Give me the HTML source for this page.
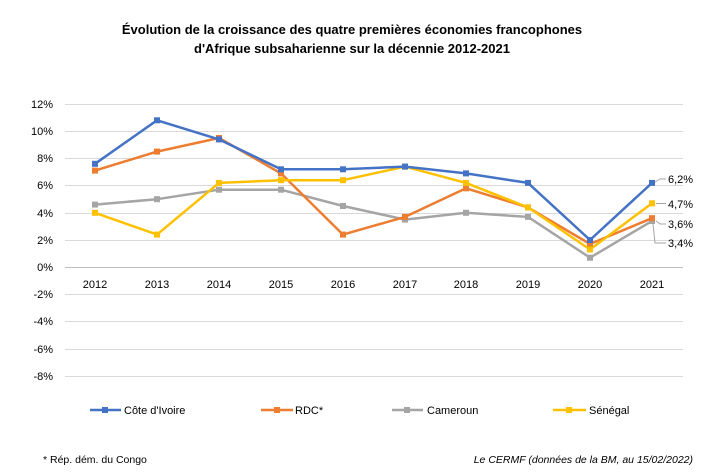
<!DOCTYPE html>
<html><head><meta charset="utf-8"><style>
body{margin:0;background:#fff;}
svg text{font-family:"Liberation Sans",sans-serif;}
</style></head><body>
<svg width="704" height="468" xmlns="http://www.w3.org/2000/svg">
<rect width="704" height="468" fill="#fff"/>
<text x="352" y="34" text-anchor="middle" font-size="13" font-weight="bold" fill="#000">Évolution de la croissance des quatre premières économies francophones</text>
<text x="352" y="53" text-anchor="middle" font-size="13" font-weight="bold" fill="#000">d'Afrique subsaharienne sur la décennie 2012-2021</text>
<g stroke="#d9d9d9" stroke-width="1">
<line x1="65" x2="683" y1="104.5" y2="104.5"/><line x1="65" x2="683" y1="131.5" y2="131.5"/>
<line x1="65" x2="683" y1="158.5" y2="158.5"/><line x1="65" x2="683" y1="185.5" y2="185.5"/>
<line x1="65" x2="683" y1="213.5" y2="213.5"/><line x1="65" x2="683" y1="240.5" y2="240.5"/>
<line x1="65" x2="683" y1="294.5" y2="294.5"/><line x1="65" x2="683" y1="321.5" y2="321.5"/>
<line x1="65" x2="683" y1="349.5" y2="349.5"/><line x1="65" x2="683" y1="376.5" y2="376.5"/>
</g>
<line x1="65" x2="683" y1="267.5" y2="267.5" stroke="#bfbfbf"/>
<g font-size="11" fill="#000" text-anchor="end">
<text x="53" y="108">12%</text><text x="53" y="135">10%</text><text x="53" y="162">8%</text><text x="53" y="189">6%</text>
<text x="53" y="217">4%</text><text x="53" y="244">2%</text><text x="53" y="271">0%</text><text x="53" y="298">-2%</text>
<text x="53" y="325">-4%</text><text x="53" y="353">-6%</text><text x="53" y="380">-8%</text>
</g>
<g font-size="11" fill="#000" text-anchor="middle">
<text x="95" y="288">2012</text><text x="157" y="288">2013</text><text x="219" y="288">2014</text><text x="281" y="288">2015</text>
<text x="343" y="288">2016</text><text x="405" y="288">2017</text><text x="466" y="288">2018</text><text x="528" y="288">2019</text>
<text x="590" y="288">2020</text><text x="652" y="288">2021</text>
</g>
<g fill="none" stroke-width="2.5" stroke-linejoin="round">
<polyline stroke="#A5A5A5" points="95,204.6 157,199.2 219,189.7 281,189.7 343,206 405,219.6 466,212.8 528,216.9 590,257.7 652,221"/>
<polyline stroke="#ED7D31" points="95,170.6 157,151.6 219,138 281,173.4 343,234.6 405,216.9 466,188.3 528,207.4 590,244 652,218.2"/>
<polyline stroke="#FFC000" points="95,212.8 157,234.6 219,182.9 281,180.2 343,180.2 405,166.6 466,182.9 528,207.4 590,249.5 652,203.3"/>
<polyline stroke="#4472C4" points="95,163.8 157,120.3 219,139.4 281,169.3 343,169.3 405,166.6 466,173.4 528,182.9 590,240 652,182.9"/>
</g>
<g fill="#A5A5A5"><rect x="92" y="201.6" width="6" height="6"/><rect x="154" y="196.2" width="6" height="6"/><rect x="216" y="186.7" width="6" height="6"/><rect x="278" y="186.7" width="6" height="6"/><rect x="340" y="203" width="6" height="6"/><rect x="402" y="216.6" width="6" height="6"/><rect x="463" y="209.8" width="6" height="6"/><rect x="525" y="213.9" width="6" height="6"/><rect x="587" y="254.7" width="6" height="6"/><rect x="649" y="218" width="6" height="6"/></g>
<g fill="#ED7D31"><rect x="92" y="167.6" width="6" height="6"/><rect x="154" y="148.6" width="6" height="6"/><rect x="216" y="135" width="6" height="6"/><rect x="278" y="170.4" width="6" height="6"/><rect x="340" y="231.6" width="6" height="6"/><rect x="402" y="213.9" width="6" height="6"/><rect x="463" y="185.3" width="6" height="6"/><rect x="525" y="204.4" width="6" height="6"/><rect x="587" y="241" width="6" height="6"/><rect x="649" y="215.2" width="6" height="6"/></g>
<g fill="#FFC000"><rect x="92" y="209.8" width="6" height="6"/><rect x="154" y="231.6" width="6" height="6"/><rect x="216" y="179.9" width="6" height="6"/><rect x="278" y="177.2" width="6" height="6"/><rect x="340" y="177.2" width="6" height="6"/><rect x="402" y="163.6" width="6" height="6"/><rect x="463" y="179.9" width="6" height="6"/><rect x="525" y="204.4" width="6" height="6"/><rect x="587" y="246.5" width="6" height="6"/><rect x="649" y="200.3" width="6" height="6"/></g>
<g fill="#4472C4"><rect x="92" y="160.8" width="6" height="6"/><rect x="154" y="117.3" width="6" height="6"/><rect x="216" y="136.4" width="6" height="6"/><rect x="278" y="166.3" width="6" height="6"/><rect x="340" y="166.3" width="6" height="6"/><rect x="402" y="163.6" width="6" height="6"/><rect x="463" y="170.4" width="6" height="6"/><rect x="525" y="179.9" width="6" height="6"/><rect x="587" y="237" width="6" height="6"/><rect x="649" y="179.9" width="6" height="6"/></g>
<g stroke="#A5A5A5" stroke-width="1" fill="none">
<polyline points="655,182 660,179 666,179"/><polyline points="656,203.5 666,203.5"/><polyline points="656,221 660,224 666,224"/><polyline points="653,224 655,243 666,243"/>
</g>
<g font-size="11" fill="#000">
<text x="668" y="183">6,2%</text><text x="668" y="208">4,7%</text><text x="668" y="228">3,6%</text><text x="668" y="247">3,4%</text>
</g>
<g stroke-width="2.5">
<line x1="90" x2="121" y1="410" y2="410" stroke="#4472C4"/><rect x="102" y="407" width="6" height="6" fill="#4472C4"/>
<line x1="261" x2="293" y1="410" y2="410" stroke="#ED7D31"/><rect x="274" y="407" width="6" height="6" fill="#ED7D31"/>
<line x1="392" x2="423" y1="410" y2="410" stroke="#A5A5A5"/><rect x="404" y="407" width="6" height="6" fill="#A5A5A5"/>
<line x1="553" x2="586" y1="410" y2="410" stroke="#FFC000"/><rect x="566" y="407" width="6" height="6" fill="#FFC000"/>
</g>
<g font-size="11" fill="#000">
<text x="124" y="414">Côte d'Ivoire</text><text x="295" y="414">RDC*</text><text x="427" y="414">Cameroun</text><text x="589" y="414">Sénégal</text>
<text x="43" y="463" font-size="10.5">* Rép. dém. du Congo</text>
<text x="693" y="463" font-size="10.5" font-style="italic" text-anchor="end">Le CERMF (données de la BM, au 15/02/2022)</text>
</g>
</svg>
</body></html>
